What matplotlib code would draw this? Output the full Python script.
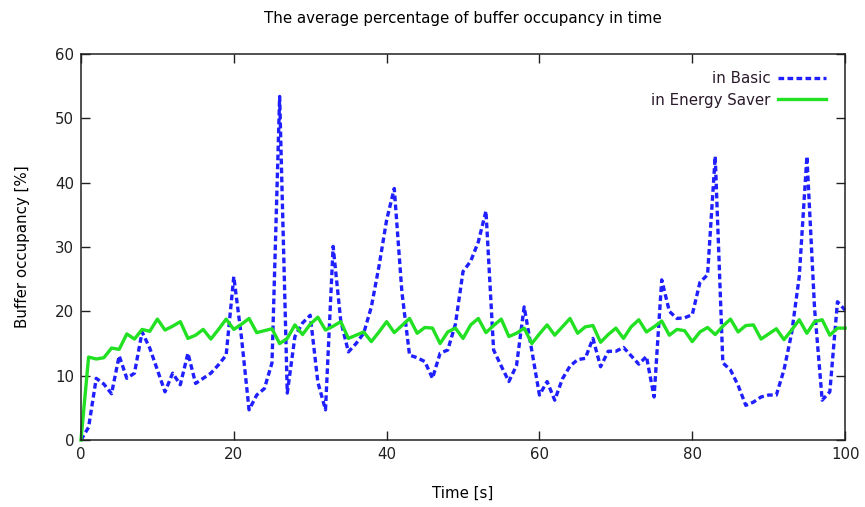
import numpy as np
import matplotlib.pyplot as plt

# time axis, one sample per second
time_s = list(range(0, 101))

# buffer occupancy [%]
basic = [
    0.0, 2.0, 9.6, 8.7, 7.2, 13.1, 9.6, 10.4, 16.8, 14.3,
    10.9, 7.5, 10.4, 8.6, 13.5, 8.8, 9.6, 10.4, 11.7, 13.2,
    25.4, 16.0, 4.7, 7.0, 8.0, 12.0, 53.4, 7.3, 16.1, 18.2,
    19.4, 9.0, 4.7, 30.1, 18.5, 13.7, 15.0, 16.6, 20.7, 27.0,
    34.2, 39.1, 23.0, 13.2, 12.8, 12.2, 9.6, 13.5, 14.0, 18.0,
    26.2, 27.8, 30.8, 35.6, 14.0, 11.5, 9.1, 11.6, 20.7, 13.9,
    7.0, 9.1, 6.2, 9.5, 11.5, 12.5, 12.7, 15.8, 11.4, 13.8,
    13.8, 14.4, 13.1, 11.8, 13.0, 6.7, 24.9, 20.0, 18.9, 19.0,
    19.5, 24.5, 25.7, 44.1, 12.0, 10.9, 8.5, 5.4, 5.9, 6.7,
    7.0, 7.0, 10.9, 16.6, 25.4, 44.1, 20.5, 6.2, 7.5, 21.5,
    20.2,
]
energy_saver = [
    0.0, 12.9, 12.6, 12.8, 14.3, 14.1, 16.5, 15.7, 17.2, 16.9,
    18.8, 17.1, 17.7, 18.4, 15.8, 16.3, 17.2, 15.7, 17.2, 18.8,
    17.2, 18.0, 18.9, 16.7, 17.0, 17.3, 15.0, 15.8, 17.9, 16.4,
    18.0, 19.1, 17.1, 17.7, 18.4, 15.8, 16.3, 16.8, 15.3, 16.8,
    18.4, 16.7, 17.8, 18.9, 16.6, 17.5, 17.4, 15.0, 16.8, 17.4,
    15.8, 17.9, 18.9, 16.7, 17.8, 18.8, 16.1, 16.6, 17.4, 15.0,
    16.5, 17.9, 16.3, 17.6, 18.9, 16.6, 17.6, 17.8, 15.2, 16.4,
    17.4, 15.8, 17.6, 18.7, 16.8, 17.6, 18.5, 16.3, 17.2, 17.0,
    15.3, 16.8, 17.5, 16.4, 17.7, 18.8, 16.8, 17.8, 17.9, 15.7,
    16.5, 17.3, 15.6, 17.1, 18.7, 16.6, 18.4, 18.7, 16.3, 17.4,
    17.4,
]

x_ticks = [0, 20, 40, 60, 80, 100]
y_ticks = [0, 10, 20, 30, 40, 50, 60]

plt.rcParams['font.family'] = ['DejaVu Sans']
fs = 10.8

fig = plt.figure(figsize=(8.65, 5.07), dpi=100)
ax = fig.add_axes([0.0936, 0.132, 0.8834, 0.7615])

ax.plot(time_s, basic, color='#1f1fff', linewidth=2.4,
        dashes=(1.7, 1.0), label='in Basic', clip_on=False)
ax.plot(time_s, energy_saver, color='#22e022', linewidth=2.4,
        label='in Energy Saver', clip_on=False)

ax.set_xlim(0, 100)
ax.set_ylim(0, 60)
ax.set_xticks(x_ticks)
ax.set_yticks(y_ticks)
ax.tick_params(direction='in', length=6.5, width=1.0, labelsize=fs,
               top=True, right=True, pad=5, colors='#202020')
for sp in ax.spines.values():
    sp.set_linewidth(1.1)
    sp.set_color('#202020')

ax.set_title('The average percentage of buffer occupancy in time',
             fontsize=fs, pad=22)
ax.set_xlabel('Time [s]', fontsize=fs, labelpad=17)
ax.set_ylabel('Buffer occupancy [%]', fontsize=fs, labelpad=18)

leg = ax.legend(loc='upper right', frameon=False, markerfirst=False,
                fontsize=fs, handlelength=3.2, handletextpad=0.5,
                borderaxespad=0.6, labelspacing=0.45,
                bbox_to_anchor=(0.995, 0.995))
for t in leg.get_texts():
    t.set_color('#2a1a2a')

fig.savefig('out.png', dpi=100)
